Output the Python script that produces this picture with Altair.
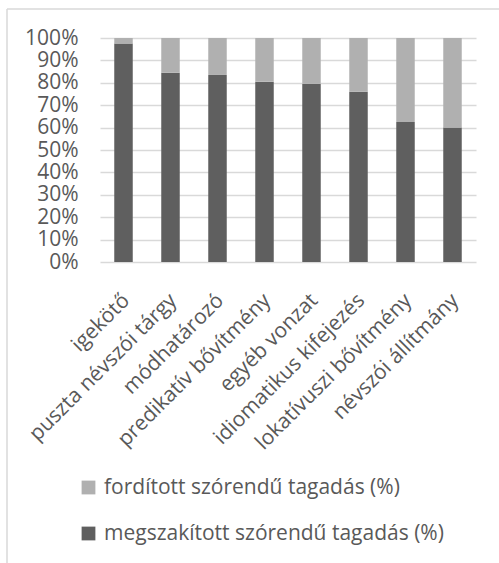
import altair as alt
import pandas as pd

categories = ["igekötő", "puszta névszói tárgy", "módhatározó", "predikatív bővítmény",
              "egyéb vonzat", "idiomatikus kifejezés", "lokatívuszi bővítmény", "névszói állítmány"]
megszakitott = [97.5, 84.5, 83.5, 80.5, 79.5, 76.0, 62.5, 60.0]
forditott = [round(100 - v, 1) for v in megszakitott]
series_names = ["fordított szórendű tagadás (%)", "megszakított szórendű tagadás (%)"]
colors = ["#b0b0b0", "#5f5f5f"]
y_ticks = [0, 10, 20, 30, 40, 50, 60, 70, 80, 90, 100]

rows = []
for c, m, f in zip(categories, megszakitott, forditott):
    rows.append({"cat": c, "series": series_names[1], "value": m, "ord": 0})
    rows.append({"cat": c, "series": series_names[0], "value": f, "ord": 1})
df = pd.DataFrame(rows)

FONT = "Open Sans"
FS = 21
TXT = "#595959"

bars = alt.Chart(df).mark_bar(size=18.5).encode(
    x=alt.X("cat:N", sort=categories, title=None,
            scale=alt.Scale(paddingInner=0.6, paddingOuter=0.3),
            axis=alt.Axis(labelAngle=-45, labelAlign="right", labelBaseline="middle",
                          labelFont=FONT, labelFontSize=FS, labelColor=TXT,
                          ticks=False, domain=False, labelPadding=35, labelLimit=400,
                          labelOffset=3, labelOverlap=False)),
    y=alt.Y("value:Q", stack="normalize", title=None,
            scale=alt.Scale(domain=[0, 1]),
            axis=alt.Axis(format=".0%", values=[v / 100 for v in y_ticks],
                          labelFont=FONT, labelFontSize=FS, labelColor=TXT,
                          ticks=False, domain=False, labelPadding=22, labelOverlap=False,
                          grid=True, gridColor="#d9d9d9", gridWidth=1.3)),
    color=alt.Color("series:N", sort=series_names,
                    scale=alt.Scale(domain=series_names, range=colors),
                    legend=alt.Legend(title=None, orient="none", legendX=-22, legendY=439,
                                      direction="vertical", symbolType="square",
                                      symbolSize=190, symbolStrokeWidth=0,
                                      labelFont=FONT, labelFontSize=FS, labelColor=TXT,
                                      rowPadding=24, labelOffset=5, labelLimit=400)),
    order=alt.Order("ord:Q"),
)

frame_df = pd.DataFrame({"k": [0]})
left_border = alt.Chart(frame_df).mark_rule(color="#d9d9d9", strokeWidth=1.5).encode(
    x=alt.value(-93), y=alt.value(-29), y2=alt.value(530))
top_border = alt.Chart(frame_df).mark_rule(color="#d9d9d9", strokeWidth=1.5).encode(
    x=alt.value(-93), x2=alt.value(410), y=alt.value(-29))

chart = alt.layer(bars, left_border, top_border).properties(
    width=376, height=224,
    padding={"left": 100, "top": 38, "right": 23, "bottom": 301},
    autosize=alt.AutoSizeParams(type="none"),
    background="white",
).configure_view(stroke=None)

chart.save("out.html", embed_options={"renderer": "svg", "actions": False})
